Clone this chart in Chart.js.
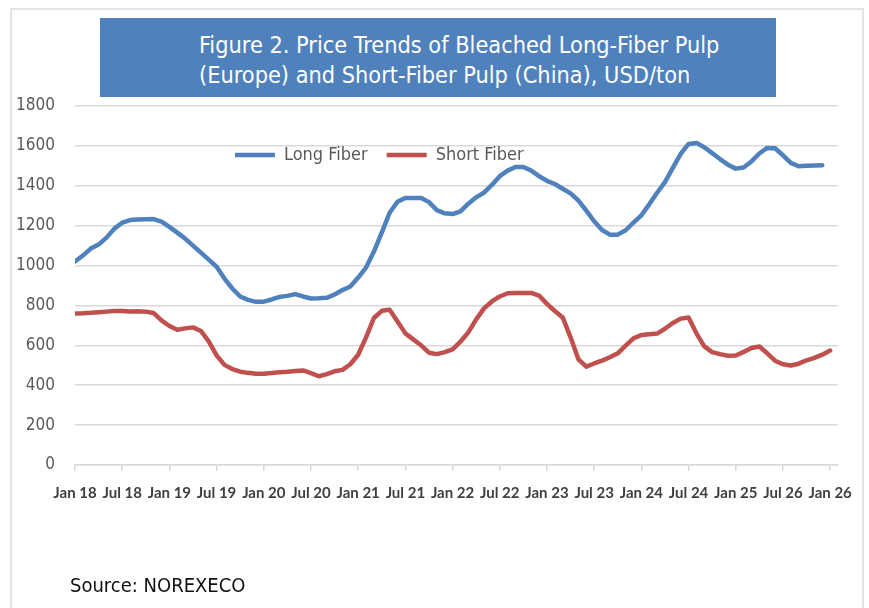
<!DOCTYPE html>
<html>
<head>
<meta charset="utf-8">
<script src="https://cdn.jsdelivr.net/npm/chart.js@4.4.1/dist/chart.umd.min.js"></script>
<style>
  html, body { margin: 0; padding: 0; background: #fff; }
  body { width: 869px; height: 608px; position: relative; overflow: hidden;
         font-family: 'Liberation Sans Narrow', 'DejaVu Sans Condensed', sans-serif; }
  #frame { position: absolute; left: 10px; top: 8px; width: 850px; height: 640px; border: 2px solid #e4e4e4; }
  #wrap { position: absolute; left: 0; top: 0; width: 869px; height: 608px; }
  #title { position: absolute; left: 100px; top: 18px; width: 676px; height: 79px; background: #4f81bd;
           color: #fff; font-size: 23.3px; line-height: 30px; box-sizing: border-box; padding: 12px 0 0 99px; }
  #source { position: absolute; left: 70px; top: 573px; font-size: 20px; color: #111; }
</style>
</head>
<body>
<div id="frame"></div>
<div id="wrap"><canvas id="pulpChart" width="869" height="608"></canvas></div>
<div id="title">Figure 2. Price Trends of Bleached Long-Fiber Pulp<br>(Europe) and Short-Fiber Pulp (China), USD/ton</div>
<div id="source">Source: NOREXECO</div>
<script>
// x-axis labels, one every 6 months starting Jan 18
const tickLabels = ['Jan 18', 'Jul 18', 'Jan 19', 'Jul 19', 'Jan 20', 'Jul 20', 'Jan 21', 'Jul 21',
  'Jan 22', 'Jul 22', 'Jan 23', 'Jul 23', 'Jan 24', 'Jul 24', 'Jan 25', 'Jul 26', 'Jan 26'];

const seriesNames = ['Long Fiber', 'Short Fiber'];

// monthly prices, USD/ton
const longFiber = [
  1020, 1050, 1085, 1105, 1140, 1185, 1215, 1228, 1231, 1232,
  1233, 1220, 1194, 1165, 1135, 1100, 1065, 1030, 994, 935,
  885, 845, 828, 818, 819, 830, 843, 848, 857, 845,
  835, 836, 838, 855, 877, 895, 940, 990, 1070, 1165,
  1265, 1320, 1339, 1339, 1339, 1318, 1278, 1262, 1258, 1272,
  1310, 1342, 1366, 1404, 1448, 1476, 1494, 1494, 1476, 1448,
  1425, 1409, 1385, 1362, 1326, 1275, 1222, 1178, 1155, 1155,
  1177, 1215, 1252, 1307, 1365, 1418, 1490, 1560, 1610, 1615,
  1593, 1564, 1534, 1506, 1486, 1492, 1522, 1562, 1590, 1588,
  1553, 1515, 1498, 1500, 1502, 1503
];

const shortFiber = [
  760, 761, 763, 766, 769, 772, 772, 770, 771, 769,
  762, 725, 697, 678, 685, 690, 672, 620, 550, 502,
  481, 468, 462, 457, 458, 461, 465, 467, 471, 474,
  461, 445, 456, 470, 477, 505, 553, 640, 737, 773,
  778, 720, 660, 630, 600, 563, 556, 566, 580, 618,
  665, 730, 785, 820, 845, 861, 863, 863, 863, 849,
  808, 772, 740, 640, 530, 493, 509, 523, 540, 560,
  598, 635, 652, 656, 659, 683, 712, 734, 740, 660,
  595, 566, 556, 548, 549, 567, 587, 594, 560, 523,
  505, 499, 508, 525, 537, 553, 574
];

const fontFamily = "'Liberation Sans Narrow', 'DejaVu Sans Condensed', sans-serif";
const gridColor = '#d9d9d9';
const textColor = '#595959';

// legend sits on top in the layout, then gets moved into the plot like in the original
const legendPlacer = {
  id: 'legendPlacer',
  afterLayout(chart) {
    const lg = chart.legend;
    const w = lg.width;
    const h = lg.height;
    lg.left = 216; lg.right = 216 + w;
    lg.top = 127; lg.bottom = 127 + h;
  }
};

const toPoints = arr => arr.map((v, i) => ({ x: i, y: v }));

const ctx = document.getElementById('pulpChart').getContext('2d');
new Chart(ctx, {
  type: 'line',
  data: {
    datasets: [
      {
        label: seriesNames[0],
        data: toPoints(longFiber),
        borderColor: '#4f81bd',
        backgroundColor: '#4f81bd',
        borderWidth: 4.5,
        borderCapStyle: 'round',
        borderJoinStyle: 'round',
        pointRadius: 0,
        tension: 0
      },
      {
        label: seriesNames[1],
        data: toPoints(shortFiber),
        borderColor: '#c0504d',
        backgroundColor: '#c0504d',
        borderWidth: 4.5,
        borderCapStyle: 'round',
        borderJoinStyle: 'round',
        pointRadius: 0,
        tension: 0
      }
    ]
  },
  options: {
    responsive: false,
    animation: false,
    layout: { padding: { top: 59, right: 31, bottom: 98, left: 0 } },
    plugins: {
      tooltip: { enabled: false },
      legend: {
        position: 'top',
        align: 'start',
        labels: {
          usePointStyle: true,
          pointStyle: 'line',
          pointStyleWidth: 40,
          padding: 19,
          color: textColor,
          font: { family: fontFamily, size: 18 }
        }
      }
    },
    scales: {
      x: {
        type: 'linear',
        min: 0,
        max: 97,
        afterBuildTicks: scale => {
          scale.ticks = tickLabels.map((t, k) => ({ value: k * 6 }));
        },
        afterFit: scale => { scale.height = 45; },
        grid: { drawOnChartArea: false, drawTicks: true, tickLength: 6, color: gridColor, lineWidth: 1.5 },
        border: { display: true, color: gridColor, width: 1.5 },
        ticks: {
          autoSkip: false,
          maxRotation: 0,
          padding: 13,
          color: '#404040',
          font: { family: 'Lato', size: 15, weight: 'bold' },
          callback: v => tickLabels[v / 6]
        }
      },
      y: {
        min: 0,
        max: 1800,
        afterFit: scale => { scale.width = 75; },
        grid: { color: gridColor, lineWidth: 1.5, drawTicks: false },
        border: { display: false },
        ticks: {
          stepSize: 200,
          padding: 20,
          color: textColor,
          font: { family: fontFamily, size: 17 },
          callback: v => String(v)
        }
      }
    }
  },
  plugins: [legendPlacer]
});
</script>
</body>
</html>
